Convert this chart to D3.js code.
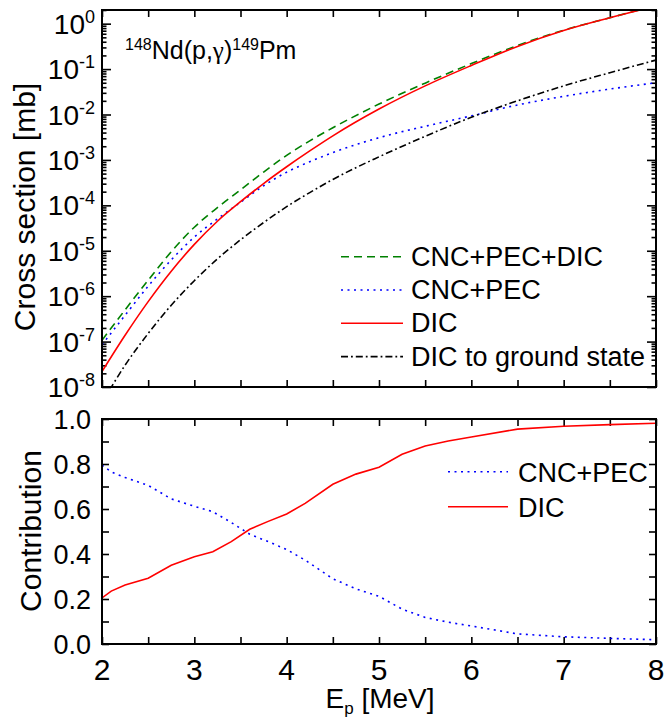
<!DOCTYPE html>
<html>
<head>
<meta charset="utf-8">
<script src="https://cdn.jsdelivr.net/npm/d3@7"></script>
<style>
  html, body { margin: 0; padding: 0; background: #fff; }
  svg { display: block; font-family: Arial, "Liberation Sans", sans-serif; }
</style>
</head>
<body>
<svg id="chart" width="666" height="718"></svg>
<script>
// Proton energies (MeV) for the cross-section curves
const energies = [2.0, 2.25, 2.5, 2.75, 3.0, 3.25, 3.5, 3.75, 4.0, 4.25, 4.5, 5.0, 5.5, 6.0, 6.5, 7.0, 7.5, 8.0];
// Cross sections in mb
const totalXs   = [1.07e-7, 5.0e-7, 2.24e-6, 9.5e-6, 3.3e-5, 8.9e-5, 2.19e-4, 5.4e-4, 1.26e-3, 2.63e-3, 5.1e-3, 1.70e-2, 4.9e-2, 0.132, 0.331, 0.72, 1.35, 2.5];
const cncPecXs  = [8.51e-8, 3.80e-7, 1.66e-6, 6.31e-6, 2.0e-5, 5.01e-5, 1.17e-4, 2.69e-4, 5.37e-4, 9.12e-4, 1.45e-3, 3.09e-3, 5.5e-3, 9.33e-3, 1.62e-2, 2.51e-2, 3.63e-2, 5.01e-2];
const dicXs     = [2.19e-8, 1.38e-7, 7.59e-7, 3.55e-6, 1.38e-5, 4.47e-5, 1.20e-4, 3.02e-4, 7.08e-4, 1.58e-3, 3.39e-3, 1.32e-2, 4.27e-2, 0.120, 0.316, 0.708, 1.35, 2.45];
const dicGsXs   = [4.47e-9, 3.02e-8, 1.51e-7, 6.31e-7, 2.19e-6, 6.61e-6, 1.74e-5, 4.17e-5, 9.33e-5, 1.91e-4, 3.72e-4, 1.17e-3, 3.31e-3, 8.71e-3, 2.0e-2, 4.27e-2, 8.32e-2, 0.158];

// Relative contributions to the total cross section
const contribE   = [2.0, 2.1, 2.25, 2.5, 2.75, 3.0, 3.2, 3.4, 3.6, 3.8, 4.0, 4.2, 4.5, 4.75, 5.0, 5.25, 5.5, 5.75, 6.0, 6.5, 7.0, 7.5, 8.0];
const contribCnc = [0.795, 0.765, 0.74, 0.705, 0.645, 0.612, 0.588, 0.54, 0.488, 0.455, 0.42, 0.373, 0.29, 0.245, 0.212, 0.155, 0.118, 0.097, 0.08, 0.045, 0.032, 0.025, 0.019];
const contribDic = [0.205, 0.235, 0.262, 0.292, 0.35, 0.388, 0.41, 0.455, 0.51, 0.545, 0.578, 0.625, 0.71, 0.755, 0.786, 0.843, 0.88, 0.902, 0.92, 0.955, 0.968, 0.975, 0.981];

const xTicks = [2, 3, 4, 5, 6, 7, 8];
const yContribTicks = [0.0, 0.2, 0.4, 0.6, 0.8, 1.0];

const svg = d3.select("#chart");
const L = 102, R = 656;
const topP = { t: 10, b: 387 };
const botP = { t: 419, b: 644 };

const x = d3.scaleLinear().domain([2, 8]).range([L, R]);
const yTop = d3.scaleLog().domain([1e-8, 2]).range([topP.b, topP.t]);
const yBot = d3.scaleLinear().domain([0, 1]).range([botP.b, botP.t]);

const halfSteps = d3.range(2, 8.001, 0.5);

// clip paths for both panels
const defs = svg.append("defs");
defs.append("clipPath").attr("id", "clipTop").append("rect")
  .attr("x", L).attr("y", topP.t).attr("width", R - L).attr("height", topP.b - topP.t);
defs.append("clipPath").attr("id", "clipBot").append("rect")
  .attr("x", L).attr("y", botP.t).attr("width", R - L).attr("height", botP.b - botP.t);

function styleAxis(g) {
  g.select(".domain").remove();
  g.selectAll("line").attr("stroke", "#000").attr("stroke-width", 1.6);
}

// ---------- Top panel: cross sections ----------
// x ticks on top and bottom edges (inward)
svg.append("g").attr("transform", `translate(0,${topP.b})`)
  .call(d3.axisBottom(x).tickValues(halfSteps).tickSize(-7).tickFormat(""))
  .call(styleAxis);
svg.append("g").attr("transform", `translate(0,${topP.t})`)
  .call(d3.axisTop(x).tickValues(halfSteps).tickSize(-7).tickFormat(""))
  .call(styleAxis);

const majorDecades = d3.range(-8, 1).map(e => Math.pow(10, e));
const minorLog = [];
for (let e = -8; e <= 0; e++) {
  for (let m = 2; m <= 9; m++) {
    const v = m * Math.pow(10, e);
    if (v <= 2) minorLog.push(v);
  }
}
// major and minor log ticks, both sides
[[d3.axisLeft, L], [d3.axisRight, R]].forEach(([ax, px]) => {
  svg.append("g").attr("transform", `translate(${px},0)`)
    .call(ax(yTop).tickValues(minorLog).tickSize(-4.5).tickFormat(""))
    .call(styleAxis);
  svg.append("g").attr("transform", `translate(${px},0)`)
    .call(ax(yTop).tickValues(majorDecades).tickSize(-9).tickFormat(""))
    .call(styleAxis);
});

// decade labels 10^n
const decLabels = svg.append("g").attr("font-size", 28).attr("fill", "#000");
majorDecades.forEach(v => {
  const e = Math.round(Math.log10(v));
  const t = decLabels.append("text")
    .attr("x", 95).attr("y", yTop(v) + 10)
    .attr("text-anchor", "end");
  t.append("tspan").text("10");
  t.append("tspan").attr("font-size", 18).attr("dy", -11).text(e === 0 ? "0" : "-" + Math.abs(e));
});

// cross section curves
const topSeries = [
  { values: totalXs,  color: "#008000", dash: "8,5" },
  { values: cncPecXs, color: "#0000ff", dash: "2,4.5" },
  { values: dicXs,    color: "#ff0000", dash: null },
  { values: dicGsXs,  color: "#000000", dash: "7,3,1.8,3" }
];
const lineTop = d3.line().x(d => x(d[0])).y(d => yTop(d[1])).curve(d3.curveMonotoneX);
const curvesTop = svg.append("g").attr("clip-path", "url(#clipTop)");
topSeries.forEach(s => {
  curvesTop.append("path")
    .datum(energies.map((e, i) => [e, s.values[i]]))
    .attr("d", lineTop)
    .attr("fill", "none")
    .attr("stroke", s.color)
    .attr("stroke-width", 1.6)
    .attr("stroke-dasharray", s.dash);
});

// frame
svg.append("rect").attr("x", L).attr("y", topP.t).attr("width", R - L).attr("height", topP.b - topP.t)
  .attr("fill", "none").attr("stroke", "#000").attr("stroke-width", 2);

// reaction label
const reac = svg.append("text").attr("x", 125).attr("y", 59).attr("font-size", 25).attr("fill", "#000");
reac.append("tspan").attr("font-size", 16).attr("dy", -9).text("148");
reac.append("tspan").attr("dy", 9).text("Nd(p,");
reac.append("tspan").attr("font-family", "'Liberation Serif', 'Times New Roman', serif").text("γ");
reac.append("tspan").text(")");
reac.append("tspan").attr("font-size", 16).attr("dy", -9).text("149");
reac.append("tspan").attr("dy", 9).text("Pm");

// legend top
const legTop = [
  { label: "CNC+PEC+DIC", color: "#008000", dash: "8,5" },
  { label: "CNC+PEC", color: "#0000ff", dash: "2,4.5" },
  { label: "DIC", color: "#ff0000", dash: null },
  { label: "DIC to ground state", color: "#000000", dash: "7,3,1.8,3" }
];
legTop.forEach((d, i) => {
  const yy = 256.7 + i * 33.3;
  svg.append("line").attr("x1", 341).attr("x2", 403).attr("y1", yy).attr("y2", yy)
    .attr("stroke", d.color).attr("stroke-width", 1.6).attr("stroke-dasharray", d.dash);
  svg.append("text").attr("x", 411).attr("y", yy + 9).attr("font-size", 27).attr("fill", "#000").text(d.label);
});

// y title
svg.append("text").attr("transform", "translate(35,207) rotate(-90)")
  .attr("text-anchor", "middle").attr("font-size", 30).attr("fill", "#000")
  .text("Cross section [mb]");

// ---------- Bottom panel: contributions ----------
svg.append("g").attr("transform", `translate(0,${botP.b})`)
  .call(d3.axisBottom(x).tickValues(halfSteps).tickSize(-7).tickFormat(""))
  .call(styleAxis);
svg.append("g").attr("transform", `translate(0,${botP.t})`)
  .call(d3.axisTop(x).tickValues(halfSteps).tickSize(-7).tickFormat(""))
  .call(styleAxis);
const tenths = d3.range(0, 1.001, 0.1);
svg.append("g").attr("transform", `translate(${L},0)`)
  .call(d3.axisLeft(yBot).tickValues(tenths).tickSize(-7).tickFormat(""))
  .call(styleAxis);
svg.append("g").attr("transform", `translate(${R},0)`)
  .call(d3.axisRight(yBot).tickValues(tenths).tickSize(-7).tickFormat(""))
  .call(styleAxis);

// y labels bottom
const fmt = d3.format(".1f");
svg.append("g").selectAll("text").data(yContribTicks).join("text")
  .attr("x", 91).attr("y", d => yBot(d) + 9.5)
  .attr("text-anchor", "end").attr("font-size", 27).attr("fill", "#000")
  .text(d => fmt(d));

// x labels
svg.append("g").selectAll("text").data(xTicks).join("text")
  .attr("x", d => x(d)).attr("y", 680)
  .attr("text-anchor", "middle").attr("font-size", 30).attr("fill", "#000")
  .text(d => d);

const lineBot = d3.line().x(d => x(d[0])).y(d => yBot(d[1]));
const curvesBot = svg.append("g").attr("clip-path", "url(#clipBot)");
const botSeries = [
  { values: contribCnc, color: "#0000ff", dash: "2,4.5", label: "CNC+PEC" },
  { values: contribDic, color: "#ff0000", dash: null, label: "DIC" }
];
botSeries.forEach(s => {
  curvesBot.append("path")
    .datum(contribE.map((e, i) => [e, s.values[i]]))
    .attr("d", lineBot)
    .attr("fill", "none").attr("stroke", s.color).attr("stroke-width", 1.6)
    .attr("stroke-dasharray", s.dash);
});

svg.append("rect").attr("x", L).attr("y", botP.t).attr("width", R - L).attr("height", botP.b - botP.t)
  .attr("fill", "none").attr("stroke", "#000").attr("stroke-width", 2);

// legend bottom
botSeries.forEach((d, i) => {
  const yy = 471.7 + i * 35;
  svg.append("line").attr("x1", 448).attr("x2", 508).attr("y1", yy).attr("y2", yy)
    .attr("stroke", d.color).attr("stroke-width", 1.6).attr("stroke-dasharray", d.dash);
  svg.append("text").attr("x", 518).attr("y", yy + 10).attr("font-size", 27).attr("fill", "#000").text(d.label);
});

svg.append("text").attr("transform", "translate(41,531) rotate(-90)")
  .attr("text-anchor", "middle").attr("font-size", 30).attr("fill", "#000")
  .text("Contribution");

// x title
const xt = svg.append("text").attr("x", 380).attr("y", 708).attr("text-anchor", "middle")
  .attr("font-size", 28).attr("fill", "#000");
xt.append("tspan").text("E");
xt.append("tspan").attr("font-size", 17).attr("dy", 6).text("p");
xt.append("tspan").attr("dy", -6).text(" [MeV]");
</script>
</body>
</html>
